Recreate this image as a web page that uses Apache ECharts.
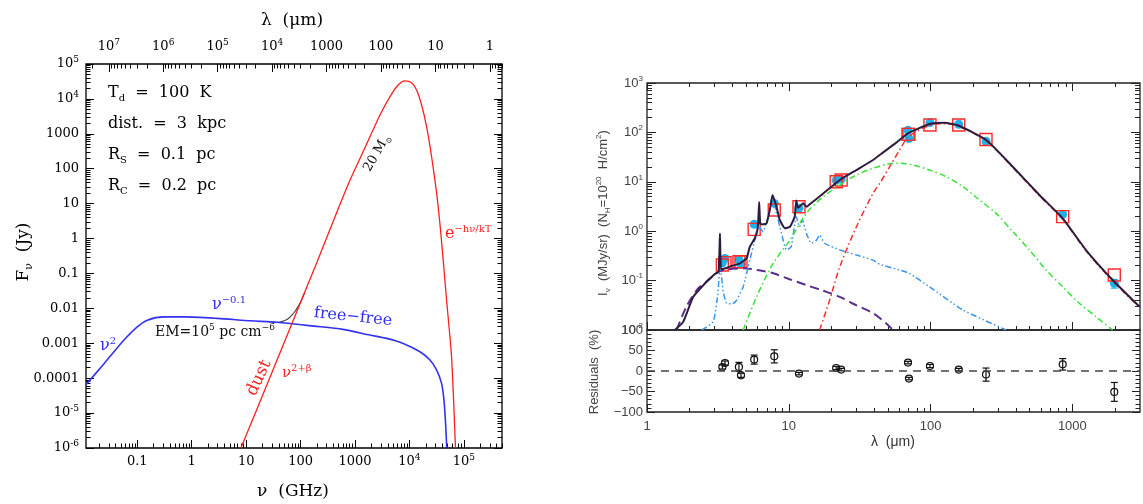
<!DOCTYPE html>
<html>
<head>
<meta charset="utf-8">
<script src="https://cdn.jsdelivr.net/npm/echarts@6/dist/echarts.min.js"></script>
<style>
html,body{margin:0;padding:0;background:#ffffff;}
#chart{width:1143px;height:504px;}
</style>
</head>
<body>
<div id="chart"></div>
<script>
// ================= LEFT PANEL (nu in GHz, F_nu in Jy) =================
const freeFreeNu   = [0.0114, 0.0245, 0.057, 0.1, 0.153, 0.31, 0.72, 2.94, 12.1, 37, 176, 600, 1880, 3800, 7670, 15600, 23800, 31600, 38900, 43000, 46100, 48400];
const freeFreeFlux = [6.5e-5, 2.6e-4, 1.24e-3, 2.97e-3, 4.6e-3, 5.7e-3, 5.7e-3, 5.16e-3, 4.4e-3, 4.0e-3, 3.1e-3, 2.5e-3, 1.72e-3, 1.38e-3, 9.9e-4, 5.7e-4, 3.3e-4, 1.7e-4, 7.1e-5, 2.4e-5, 5.1e-6, 1e-6];
const dustNu   = [8.0, 20, 50, 124, 200, 400, 800, 1630, 2860, 4370, 6200, 8260, 10960, 13530, 16700, 20650, 25500, 31550, 36250, 41700, 48100, 59400, 70000];
const dustFlux = [1e-6, 3.2e-5, 1.05e-3, 0.034, 0.21, 3.2, 45, 500, 3400, 11500, 25000, 33000, 29000, 18000, 6700, 1600, 220, 20, 2.7, 0.24, 0.017, 4e-4, 1e-6];
const totalNu   = [30, 40, 50, 60, 70, 80, 90, 100, 120];
const totalFlux = [3.9e-3, 4.0e-3, 4.4e-3, 5.15e-3, 6.5e-3, 8.4e-3, 1.12e-2, 1.52e-2, 2.9e-2];

const leftXTickExp    = [-1, 0, 1, 2, 3, 4, 5];
const leftXTickLabels = ['0.1', '1', '10', '100', '1000', '10^4', '10^5'];
const leftYTickExp    = [-6, -5, -4, -3, -2, -1, 0, 1, 2, 3, 4, 5];
const leftYTickLabels = ['10^-6', '10^-5', '0.0001', '0.001', '0.01', '0.1', '1', '10', '100', '1000', '10^4', '10^5'];
const topLamTickExp    = [7, 6, 5, 4, 3, 2, 1, 0];
const topLamTickLabels = ['10^7', '10^6', '10^5', '10^4', '1000', '100', '10', '1'];

// ================= RIGHT PANEL (lambda in micron, I_nu in MJy/sr) =================
const totalLam = [1.57,1.80,2.12,2.63,3.00,3.20,3.27,3.33,3.54,4.00,4.52,5.04,5.31,5.76,6.05,6.18,6.30,6.60,6.97,7.35,7.68,8.19,8.64,9.38,10.2,11.0,11.3,11.6,11.9,12.6,13.3,14.8,17.0,22.9,30.0,39.3,45.0,57.3,69.2,98.4,125.5,160,247,380,586,855,1248,1923,2965];
const totalI   = [0.010,0.0146,0.047,0.095,0.135,0.155,0.90,0.170,0.177,0.20,0.224,0.283,0.485,0.72,1.2,3.9,1.4,1.38,1.45,2.69,5.4,3.13,1.69,1.15,1.23,1.96,4.2,3.0,3.13,3.67,3.13,3.96,5.4,10.9,17.3,27.6,37,62,96,148,157,135,70,20.2,5.4,1.82,0.416,0.103,0.030];
const smallGrainLam = [1.62,1.90,2.30,2.63,3.20,3.45,4.00,4.77,6.00,7.76,10.0,13.3,17.0,22.9,28.4,39.3,48.7,54.3];
const smallGrainI   = [0.010,0.030,0.070,0.095,0.150,0.164,0.174,0.177,0.164,0.141,0.108,0.081,0.064,0.047,0.034,0.0218,0.0136,0.010];
const pahLam = [2.43,2.93,3.15,3.28,3.45,3.64,4.0,4.28,4.77,5.31,5.76,6.18,6.59,7.15,7.68,8.19,8.88,9.63,10.4,11.3,11.9,12.5,13.3,14.4,15.7,16.5,17.9,22.9,30.0,39.3,43.8,60.5,71,98,169,341];
const pahI   = [0.010,0.0146,0.05,0.20,0.06,0.0347,0.034,0.040,0.075,0.26,0.66,1.23,0.98,1.96,4.99,2.30,0.91,0.416,0.485,1.96,1.23,1.69,0.91,0.57,0.66,0.84,0.57,0.416,0.33,0.26,0.214,0.164,0.14,0.075,0.0254,0.010];
const vsgLam = [4.77,5.93,7.76,10.2,13.3,17.5,22.9,30.0,39.3,50,60.5,75,98.4,129,169,221,290,380,498,653,855,1120,1468,1923];
const vsgI   = [0.010,0.047,0.224,0.66,2.30,5.0,8.6,13.7,18.8,23,23.7,21.9,17.3,12.7,7.96,4.28,2.30,0.98,0.416,0.164,0.075,0.0347,0.0186,0.010];
const bigGrainLam = [16.5,19.4,22.9,30.0,39.3,43.8,51.4,60.5,70,98.4,125.5,160,247,380,586,855,1248,1923,2965];
const bigGrainI   = [0.010,0.040,0.19,1.23,5.85,9.3,20,44,82,138,150,131,67,19.5,5.2,1.75,0.40,0.099,0.029];

const bandLam  = [3.4,3.55,4.45,4.6,5.7,7.9,11.8,21.6,23.4,69.3,70.4,99,158,246,855,1976];
const modelI   = [0.207,0.231,0.241,0.24,1.09,2.69,3.13,10.0,10.9,91,91,141,141,72,1.97,0.13];
const obsI     = [0.23,0.28,0.265,0.215,1.38,3.65,2.93,10.7,11.3,110,75,158,146,66,2.2,0.088];
const obsErr   = [0.03,0.03,0.06,0.06,0.08,0.10,0.03,0.03,0.03,0.03,0.03,0.03,0.03,0.10,0.10,0.20];
const residual = [9.8,19.5,10,-10.5,27.8,35.8,-6.4,7.3,3.4,20.5,-18.5,12.2,3.4,-8.8,16.3,-51];
const residErr = [5,5,11,5,11,16,3,4,3,3,3,4,3,16,14,23];
const zeroLineLam = [1, 3000];
const zeroLineRes = [0, 0];

const rightXTickExp    = [0, 1, 2, 3];
const rightXTickLabels = ['1', '10', '100', '1000'];
const rightYTickExp    = [-2, -1, 0, 1, 2, 3];
const rightYTickLabels = ['10^-2', '10^-1', '10^0', '10^1', '10^2', '10^3'];
const residTickValues  = [-100, -50, 0, 50, 100];
const residTickLabels  = ['\u2212100', '\u221250', '0', '50', '100'];

// ================= helpers =================
const L = Math.log10;
const NU_LAM = L(299792.458);          // log10(nu[GHz]*lambda[um])
const LX = [-1.942, 5.70], LY = [-6, 5];
const RX = [0, L(3000)], RY = [-2, 3], RR = [-100, 100];
const SERIF = '"DejaVu Serif", serif';
const SANS = '"Liberation Sans", Arial, sans-serif';

const logPairs = (xs, ys) => xs.map((x, i) => [L(x), L(ys[i])]);
function majors(lo, hi) { const o = []; for (let e = Math.ceil(lo - 1e-9); e <= Math.floor(hi + 1e-9); e++) o.push(e); return o; }
function minors(lo, hi) { const o = []; for (let e = Math.floor(lo) - 1; e <= Math.ceil(hi); e++) for (let k = 2; k <= 9; k++) { const v = e + L(k); if (v > lo + 1e-6 && v < hi - 1e-6) o.push(v); } return o; }
function richLabel(s) { const i = s.indexOf('^'); return i < 0 ? '{b|' + s + '}' : '{b|' + s.slice(0, i) + '}{s|' + s.slice(i + 1) + '}'; }
function fmt(vals, labels) { return function (v) { let b = 0; for (let i = 1; i < vals.length; i++) if (Math.abs(vals[i] - v) < Math.abs(vals[b] - v)) b = i; return richLabel(labels[b]); }; }
function axisRich(font, size, sup, color) {
  return { b: { fontFamily: font, fontSize: size, lineHeight: size + 4, color: color },
           s: { fontFamily: font, fontSize: sup, lineHeight: Math.round(size * 0.6), verticalAlign: 'top', color: color } };
}
function ax(grid, pos, range, ticks, len, label, color) {
  const o = { type: 'value', gridIndex: grid, position: pos, min: range[0], max: range[1],
    axisLine: { show: false, onZero: false }, splitLine: { show: false }, splitArea: { show: false },
    axisTick: { show: true, inside: true, length: len, customValues: ticks, lineStyle: { color: color || '#000', width: 1 } },
    axisLabel: { show: false }, axisPointer: { show: false } };
  if (label) o.axisLabel = Object.assign({ show: true, customValues: ticks }, label);
  return o;
}
function gRich(font, size, color) {
  const s = Math.round(size * 0.65), h = Math.round(size * 0.6);
  return { n: { fontFamily: font, fontSize: size, lineHeight: size + 4, fill: color },
           sup: { fontFamily: font, fontSize: s, lineHeight: h, verticalAlign: 'top', fill: color },
           sub: { fontFamily: font, fontSize: s, lineHeight: h, verticalAlign: 'bottom', fill: color } };
}
function gText(x, y, text, font, size, color, align, rotDeg) {
  return { type: 'text', x: x, y: y, rotation: (rotDeg || 0) * Math.PI / 180, silent: true, z: 50,
    style: { text: text, rich: gRich(font, size, color), fill: color, fontFamily: font, fontSize: size,
             align: align || 'left', verticalAlign: 'middle', textAlign: align || 'left', textVerticalAlign: 'middle' } };
}

// tick positions
const lxMaj = majors(LX[0], LX[1]), lxMin = minors(LX[0], LX[1]);
const lyMaj = majors(LY[0], LY[1]), lyMin = minors(LY[0], LY[1]);
const lamMajVals = topLamTickExp.map(e => NU_LAM - e);
const lamMinVals = [];
for (let e = -1; e <= 8; e++) for (let k = 2; k <= 9; k++) { const v = NU_LAM - (e + L(k)); if (v > LX[0] + 1e-6 && v < LX[1] - 1e-6) lamMinVals.push(v); }
const rxMaj = majors(RX[0], RX[1]), rxMin = minors(RX[0], RX[1]);
const ryMaj = majors(RY[0], RY[1]), ryMin = minors(RY[0], RY[1]);
const rrMin = []; for (let v = -90; v <= 90; v += 10) if (v % 50 !== 0) rrMin.push(v);

const leftLab = { fontFamily: SERIF, fontSize: 13, color: '#000', rich: axisRich(SERIF, 13, 9, '#000') };
const rightLab = { fontFamily: SANS, fontSize: 13, color: '#444', rich: axisRich(SANS, 13, 8, '#444') };

const xAxes = [
  ax(0, 'bottom', LX, lxMaj, 8, Object.assign({ margin: 5, formatter: fmt(leftXTickExp, leftXTickLabels) }, leftLab)),
  ax(0, 'bottom', LX, lxMin, 4.5),
  ax(0, 'top', LX, lamMajVals, 8, Object.assign({ margin: 9, formatter: fmt(lamMajVals, topLamTickLabels) }, leftLab)),
  ax(0, 'top', LX, lamMinVals, 4.5),
  ax(1, 'bottom', RX, rxMaj, 8, null, '#222'),
  ax(1, 'bottom', RX, rxMin, 4, null, '#222'),
  ax(1, 'top', RX, rxMaj, 8, null, '#222'),
  ax(1, 'top', RX, rxMin, 4, null, '#222'),
  ax(2, 'bottom', RX, rxMaj, 8, Object.assign({ margin: 6, formatter: fmt(rightXTickExp, rightXTickLabels) }, rightLab), '#222'),
  ax(2, 'bottom', RX, rxMin, 4, null, '#222')
];
const yAxes = [
  ax(0, 'left', LY, lyMaj, 8, Object.assign({ margin: 7, formatter: fmt(leftYTickExp, leftYTickLabels) }, leftLab)),
  ax(0, 'left', LY, lyMin, 4.5),
  ax(0, 'right', LY, lyMaj, 8),
  ax(0, 'right', LY, lyMin, 4.5),
  ax(1, 'left', RY, ryMaj, 9, Object.assign({ margin: 4, formatter: fmt(rightYTickExp, rightYTickLabels) }, rightLab), '#222'),
  ax(1, 'left', RY, ryMin, 5, null, '#222'),
  ax(1, 'right', RY, ryMaj, 9, null, '#222'),
  ax(1, 'right', RY, ryMin, 5, null, '#222'),
  ax(2, 'left', RR, residTickValues, 8, Object.assign({ margin: 4, formatter: fmt(residTickValues, residTickLabels) }, rightLab), '#222'),
  ax(2, 'left', RR, rrMin, 4.5, null, '#222'),
  ax(2, 'right', RR, residTickValues, 8, null, '#222'),
  ax(2, 'right', RR, rrMin, 4.5, null, '#222')
];

function lineSeries(xi, yi, data, color, width, type, smooth) {
  return { type: 'line', xAxisIndex: xi, yAxisIndex: yi, data: data, showSymbol: false, symbol: 'none',
    smooth: smooth === undefined ? 0.3 : smooth, silent: true, clip: true,
    lineStyle: { color: color, width: width, type: type || 'solid' } };
}
function errSeries(xi, yi, data, color, cap, width) {
  return { type: 'custom', xAxisIndex: xi, yAxisIndex: yi, data: data, silent: true, clip: true,
    renderItem: function (params, api) {
      const x = api.value(0), lo = api.value(2), hi = api.value(3);
      const p1 = api.coord([x, lo]), p2 = api.coord([x, hi]);
      const st = { stroke: color, lineWidth: width };
      return { type: 'group', children: [
        { type: 'line', shape: { x1: p1[0], y1: p1[1], x2: p2[0], y2: p2[1] }, style: st },
        { type: 'line', shape: { x1: p1[0] - cap, y1: p1[1], x2: p1[0] + cap, y2: p1[1] }, style: st },
        { type: 'line', shape: { x1: p2[0] - cap, y1: p2[1], x2: p2[0] + cap, y2: p2[1] }, style: st } ] };
    } };
}

const series = [
  // left panel
  lineSeries(0, 0, logPairs(totalNu, totalFlux), '#444444', 1.2),
  lineSeries(0, 0, logPairs(freeFreeNu, freeFreeFlux), '#3232f0', 1.6, 'solid', 0.25),
  lineSeries(0, 0, logPairs(dustNu, dustFlux), '#ff1e1e', 1.3, 'solid', 0.25),
  // right panel
  lineSeries(4, 4, logPairs(smallGrainLam, smallGrainI), '#5a2e8e', 2, [9, 5]),
  lineSeries(4, 4, logPairs(pahLam, pahI), '#3a94ea', 1.5, [6, 2.5, 1.5, 2.5, 1.5, 2.5], 0.15),
  lineSeries(4, 4, logPairs(vsgLam, vsgI), '#38e038', 1.5, [6, 3, 1.5, 3]),
  lineSeries(4, 4, logPairs(bigGrainLam, bigGrainI), '#ee3030', 1.5, [6, 3, 1.5, 3]),
  lineSeries(4, 4, logPairs(totalLam, totalI), '#2e1c3e', 2, 'solid', 0.15),
  errSeries(4, 4, bandLam.map((l, i) => [L(l), L(obsI[i]), L(obsI[i] * (1 - obsErr[i])), L(obsI[i] * (1 + obsErr[i]))]), '#1fb2ea', 3.5, 1.2),
  { type: 'scatter', xAxisIndex: 4, yAxisIndex: 4, data: logPairs(bandLam, obsI), symbol: 'circle', symbolSize: 9, silent: true,
    itemStyle: { color: '#1fb2ea', opacity: 1 } },
  { type: 'scatter', xAxisIndex: 4, yAxisIndex: 4, data: logPairs(bandLam, modelI), symbol: 'rect', symbolSize: 12, silent: true,
    itemStyle: { color: 'rgba(0,0,0,0)', borderColor: '#ff2a2a', borderWidth: 1.4, opacity: 1 } },
  // residual panel
  { type: 'line', xAxisIndex: 8, yAxisIndex: 8, data: zeroLineLam.map((l, i) => [L(l), zeroLineRes[i]]), showSymbol: false, symbol: 'none', silent: true,
    lineStyle: { color: '#444', width: 1.5, type: [8, 6] } },
  errSeries(8, 8, bandLam.map((l, i) => [L(l), residual[i], residual[i] - residErr[i], residual[i] + residErr[i]]), '#111', 3.5, 1.2),
  { type: 'scatter', xAxisIndex: 8, yAxisIndex: 8, data: bandLam.map((l, i) => [L(l), residual[i]]), symbol: 'circle', symbolSize: 7, silent: true,
    itemStyle: { color: 'rgba(0,0,0,0)', borderColor: '#111', borderWidth: 1.2, opacity: 1 } }
];

const BLUE = '#2e2ef0', RED = '#ff1e1e';
const graphic = [
  // left panel axis titles
  gText(292, 21, '{n|\u03bb  (\u03bcm)}', SERIF, 17, '#000', 'center'),
  gText(293, 492, '{n|\u03bd  (GHz)}', SERIF, 17, '#000', 'center'),
  gText(24, 252, '{n|F}{sub|\u03bd}{n|  (Jy)}', SERIF, 17, '#000', 'center', 90),
  // parameters
  gText(108, 93, '{n|T}{sub|d}{n|  =  100  K}', SERIF, 16, '#000', 'left'),
  gText(108, 124, '{n|dist.  =  3  kpc}', SERIF, 16, '#000', 'left'),
  gText(108, 155, '{n|R}{sub|S}{n|  =  0.1  pc}', SERIF, 16, '#000', 'left'),
  gText(108, 186, '{n|R}{sub|C}{n|  =  0.2  pc}', SERIF, 16, '#000', 'left'),
  // curve annotations
  gText(212, 305, '{n|\u03bd}{sup|\u22120.1}', SERIF, 16, BLUE, 'left'),
  gText(353, 317, '{n|free\u2212free}', SERIF, 16, BLUE, 'center', -6),
  gText(100, 346, '{n|\u03bd}{sup|2}', SERIF, 16, BLUE, 'left'),
  gText(155, 332, '{n|EM=10}{sup|5}{n| pc cm}{sup|\u22126}', SERIF, 14, '#111', 'left'),
  gText(259, 378, '{n|dust}', SERIF, 17, RED, 'center', 65),
  gText(282, 373, '{n|\u03bd}{sup|2+\u03b2}', SERIF, 15, RED, 'left'),
  gText(377, 153, '{n|20 M}{sub|\u2299}', SERIF, 13, '#111', 'center', 60),
  gText(445, 234, '{n|e}{sup|\u2212h\u03bd/kT}', SERIF, 16, RED, 'left'),
  // right panel titles
  gText(893, 442, '{n|\u03bb  (\u03bcm)}', SANS, 14, '#333', 'center'),
  gText(603, 213, '{n|I}{sub|\u03bd}{n|  (MJy/sr)  (N}{sub|H}{n|=10}{sup|20}{n|  H/cm}{sup|2}{n|)}', SANS, 13, '#444', 'center', 90),
  gText(594, 372, '{n|Residuals  (%)}', SANS, 13, '#444', 'center', 90)
];

const chart = echarts.init(document.getElementById('chart'), null, { renderer: 'canvas' });
chart.setOption({
  animation: false,
  backgroundColor: '#ffffff',
  grid: [
    { left: 86, top: 64, width: 416, height: 384, show: true, borderColor: '#000', borderWidth: 1.3, backgroundColor: 'rgba(0,0,0,0)', containLabel: false, outerBoundsMode: 'none' },
    { left: 647, top: 83, width: 493, height: 247, show: true, borderColor: '#222', borderWidth: 1.3, backgroundColor: 'rgba(0,0,0,0)', containLabel: false, outerBoundsMode: 'none' },
    { left: 647, top: 330, width: 493, height: 82, show: true, borderColor: '#222', borderWidth: 1.3, backgroundColor: 'rgba(0,0,0,0)', containLabel: false, outerBoundsMode: 'none' }
  ],
  xAxis: xAxes,
  yAxis: yAxes,
  series: series,
  graphic: graphic
});
</script>
</body>
</html>
